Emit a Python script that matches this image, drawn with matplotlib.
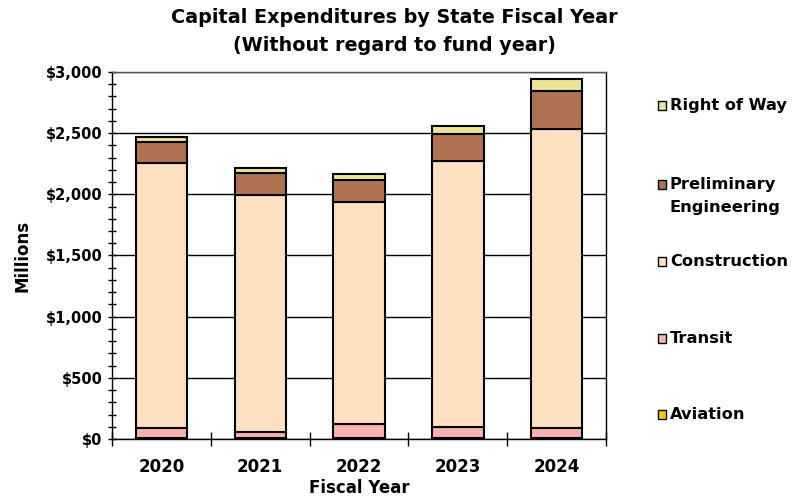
import matplotlib.pyplot as plt
from matplotlib.patches import Rectangle
from matplotlib.ticker import FuncFormatter, MultipleLocator

# Capital expenditures in $ millions, by fiscal year and category
years = ["2020", "2021", "2022", "2023", "2024"]
aviation = [8, 6, 8, 8, 7]
transit = [84, 54, 117, 90, 83]
construction = [2167, 1937, 1810, 2177, 2442]
prelim_eng = [166, 177, 185, 218, 313]
right_of_way = [46, 44, 46, 66, 100]

series = [
    ("Aviation", aviation, "#FFCC00"),
    ("Transit", transit, "#FFB0B0"),
    ("Construction", construction, "#FFE0C0"),
    ("Preliminary\nEngineering", prelim_eng, "#B07351"),
    ("Right of Way", right_of_way, "#EAE49A"),
]

plt.rcParams["font.family"] = "DejaVu Sans"
plt.rcParams["font.weight"] = "bold"

fig = plt.figure(figsize=(7.97, 5.01), dpi=100)
ax = fig.add_axes([0.1405, 0.1238, 0.6199, 0.7325])

x = list(range(len(years)))
bottom = [0] * len(years)
for name, vals, color in series:
    ax.bar(x, vals, bottom=bottom, width=0.52, color=color,
           edgecolor="black", linewidth=1.5, zorder=3)
    bottom = [b + v for b, v in zip(bottom, vals)]

ax.set_xlim(-0.5, len(years) - 0.5)
ax.set_ylim(0, 3000)

# y axis: dollar labels, crossing ticks every $100M
ax.yaxis.set_major_locator(MultipleLocator(500))
ax.yaxis.set_minor_locator(MultipleLocator(100))
ax.yaxis.set_major_formatter(FuncFormatter(lambda v, p: f"${v:,.0f}"))
ax.tick_params(axis="y", which="both", direction="inout", length=6, width=1,
               labelsize=10.5, pad=4)
ax.grid(axis="y", which="major", color="black", linewidth=1, zorder=0)

# x axis: ticks on category boundaries, labels centred under bars
ax.set_xticks([i - 0.5 for i in range(len(years) + 1)])
ax.set_xticklabels([])
ax.set_xticks(x, minor=True)
ax.set_xticklabels(years, minor=True, fontsize=12, fontweight="bold")
ax.tick_params(axis="x", which="major", direction="inout", length=10, width=1)
ax.tick_params(axis="x", which="minor", length=0, pad=14)

for s in ax.spines.values():
    s.set_linewidth(1)
ax.spines["top"].set_color("#555555")

ax.set_xlabel("Fiscal Year", fontsize=12, fontweight="bold", labelpad=2)
ax.set_ylabel("Millions", fontsize=12, fontweight="bold", labelpad=10)

fig.text(0.495, 0.965, "Capital Expenditures by State Fiscal Year",
         ha="center", va="center", fontsize=13.8, fontweight="bold")
fig.text(0.495, 0.91, "(Without regard to fund year)",
         ha="center", va="center", fontsize=13.8, fontweight="bold")

# legend entries down the right side, top entry first
legend_y = [0.79, 0.632, 0.479, 0.325, 0.173]
for (name, vals, color), ly in zip(series[::-1], legend_y):
    fig.patches.append(Rectangle((0.8256, ly - 0.009), 0.0105, 0.017,
                                 transform=fig.transFigure, facecolor=color,
                                 edgecolor="black", linewidth=1))
    fig.text(0.8405, ly, name.split("\n")[0], ha="left", va="center",
             fontsize=11.7, fontweight="bold")
    if "\n" in name:
        fig.text(0.8405, ly - 0.046, name.split("\n")[1], ha="left",
                 va="center", fontsize=11.7, fontweight="bold")

fig.savefig("out.png", dpi=100)
